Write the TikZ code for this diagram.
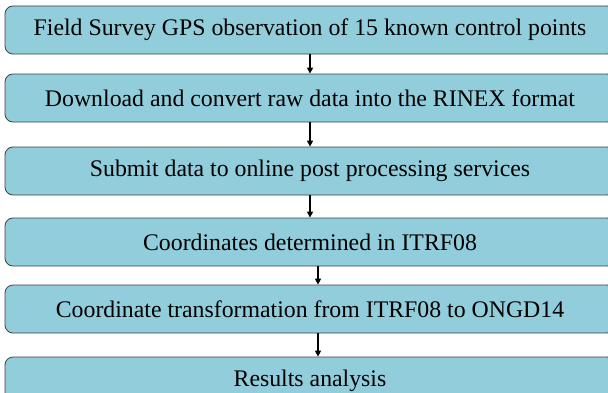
\documentclass[tikz,border=0pt]{standalone}
\usepackage{fontspec}
\setmainfont{Liberation Serif}
\usetikzlibrary{positioning,arrows.meta}
\definecolor{stepfill}{HTML}{92CDDC}
\definecolor{stepline}{HTML}{404040}

\begin{document}
\begin{tikzpicture}[x=1pt, y=1pt,
  stepbox/.style={rectangle, rounded corners=8pt, draw=stepline, fill=stepfill, line width=0.8pt, minimum width=610pt, minimum height=48pt, inner sep=0pt, font=\fontsize{23.8}{28}\selectfont},
  flow/.style={-{Triangle[length=6pt, width=6pt]}, line width=1.6pt, black}]
\useasboundingbox (0, 0) rectangle (608, 392);
\clip (0, 0) rectangle (608, 392);

\node[stepbox] (1) at (310, 362) {Field Survey GPS observation of 15 known control points};
\node[stepbox] (2) at (310, 294) {Download and convert raw data into the RINEX format};
\node[stepbox] (3) at (310, 221) {Submit data to online post processing services};
\node[stepbox] (4) at (310, 150) {Coordinates determined in ITRF08};
\node[stepbox] (5) at (310, 83) {Coordinate transformation from ITRF08 to ONGD14};
\node[stepbox] (6) at (310, 11) {Results analysis};

\draw[flow] (1.south) -- (2.north);
\draw[flow] (2.south) -- (3.north);
\draw[flow] (3.south) -- (4.north);
\draw[flow] ([xshift=8pt]4.south) -- ([xshift=8pt]5.north);
\draw[flow] ([xshift=8pt]5.south) -- ([xshift=8pt]6.north);

\end{tikzpicture}
\end{document}
